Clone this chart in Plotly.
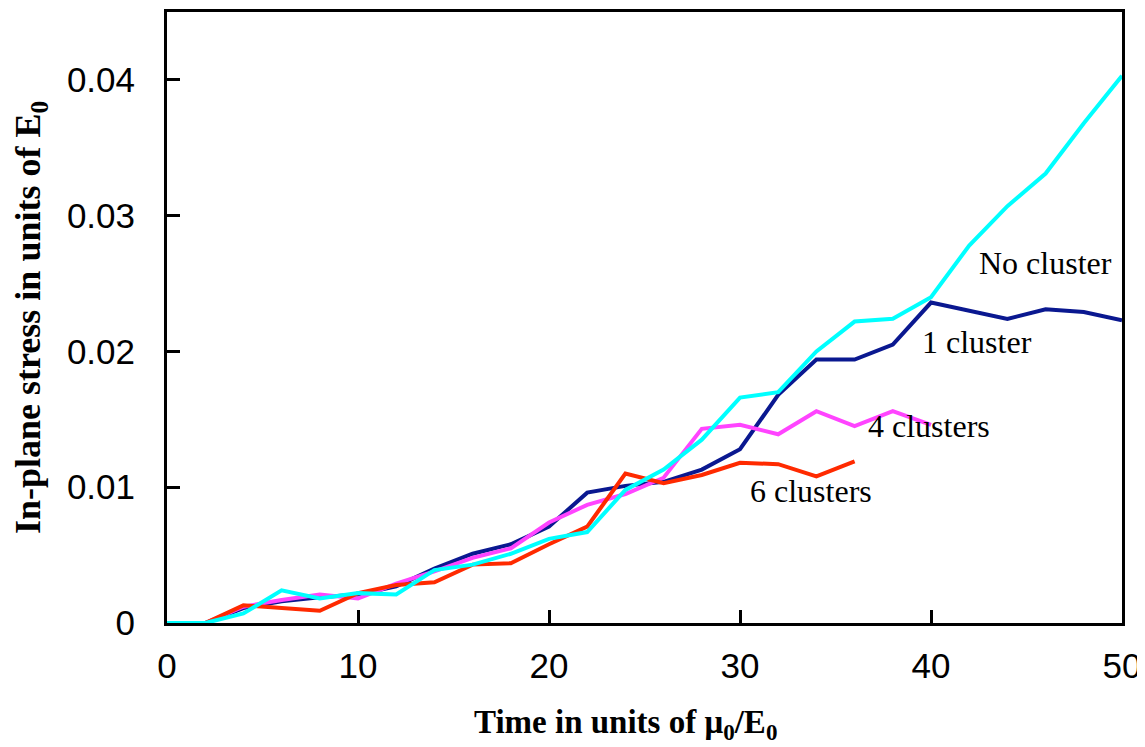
import plotly.graph_objects as go

time = [0, 2, 4, 6, 8, 10, 12, 14, 16, 18, 20, 22, 24, 26, 28, 30, 32, 34, 36, 38, 40, 42, 44, 46, 48, 50]

no_cluster = [0, 0, 0.0007, 0.0024, 0.0018, 0.0022, 0.0021, 0.0039, 0.0043, 0.0051, 0.0062, 0.0067,
              0.0098, 0.0113, 0.0135, 0.0166, 0.0170, 0.0200, 0.0222, 0.0224, 0.0240, 0.0278,
              0.0307, 0.0331, 0.0368, 0.0403]
one_cluster = [0, 0, 0.0011, 0.0016, 0.0019, 0.0021, 0.0027, 0.0040, 0.0051, 0.0058, 0.0071, 0.0096,
               0.0101, 0.0104, 0.0113, 0.0128, 0.0168, 0.0194, 0.0194, 0.0205, 0.0236, 0.0230,
               0.0224, 0.0231, 0.0229, 0.0223]
four_clusters = [0, 0, 0.0012, 0.0017, 0.0021, 0.0018, 0.0029, 0.0038, 0.0048, 0.0055, 0.0074, 0.0087,
                 0.0095, 0.0107, 0.0143, 0.0146, 0.0139, 0.0156, 0.0145, 0.0156, 0.0146]
six_clusters = [0, 0, 0.0013, 0.0011, 0.0009, 0.0022, 0.0028, 0.0030, 0.0043, 0.0044, 0.0058, 0.0071,
                0.0110, 0.0103, 0.0109, 0.0118, 0.0117, 0.0108, 0.0119]

series_names = ["1 cluster", "4 clusters", "6 clusters", "No cluster"]
series_colors = ["#0A1890", "#FF44FF", "#FF2A00", "#00FFFF"]
series_values = [one_cluster, four_clusters, six_clusters, no_cluster]

label_text = ["No cluster", "1 cluster", "4 clusters", "6 clusters"]
label_x = [46.0, 42.4, 39.9, 33.7]
label_y = [0.0265, 0.0207, 0.0145, 0.0097]

x_ticks = [0, 10, 20, 30, 40, 50]
y_ticks = [0, 0.01, 0.02, 0.03, 0.04]
y_tick_text = ["0", "0.01", "0.02", "0.03", "0.04"]

x_title = "<b>Time in units of μ<sub>0</sub>/E<sub>0</sub></b>"
y_title = "<b>In-plane stress in units of E<sub>0</sub></b>"

fig = go.Figure()
for name, color, vals in zip(series_names, series_colors, series_values):
    fig.add_trace(go.Scatter(
        x=time[:len(vals)], y=vals, mode="lines", name=name,
        line=dict(color=color, width=4), showlegend=False,
    ))

for t, lx, ly in zip(label_text, label_x, label_y):
    fig.add_annotation(x=lx, y=ly, text=t, showarrow=False,
                       font=dict(family="Liberation Serif", size=32, color="black"))

# x-axis title placed as a paper-anchored annotation for exact positioning
fig.add_annotation(xref="paper", yref="paper", x=0.4806, y=-0.166, text=x_title,
                   showarrow=False, xanchor="center", yanchor="middle",
                   font=dict(family="Liberation Serif", size=33, color="black"))

# the page adds an 8px body margin, so the figure is sized and placed to compensate
fig.update_layout(
    width=1137, height=739,
    margin=dict(l=159, r=23, t=1, b=124),
    paper_bgcolor="white", plot_bgcolor="white",
    xaxis=dict(
        range=[0, 50], tickvals=x_ticks, ticks="inside", ticklen=13, tickwidth=3,
        tickcolor="black", showline=True, linecolor="black", linewidth=3, mirror=True,
        showgrid=False, zeroline=False, ticklabelstandoff=10,
        tickfont=dict(family="Liberation Sans", size=35, color="black"),
    ),
    yaxis=dict(
        range=[0, 0.045], tickvals=y_ticks, ticktext=y_tick_text, ticks="inside", ticklen=13,
        tickwidth=3, tickcolor="black", showline=True, linecolor="black", linewidth=3, mirror=True,
        showgrid=False, zeroline=False, ticklabelstandoff=22,
        tickfont=dict(family="Liberation Sans", size=35, color="black"),
        title=dict(text=y_title,
                   font=dict(family="Liberation Serif", size=36, color="black"), standoff=20),
    ),
)

fig.write_html("out.html")
